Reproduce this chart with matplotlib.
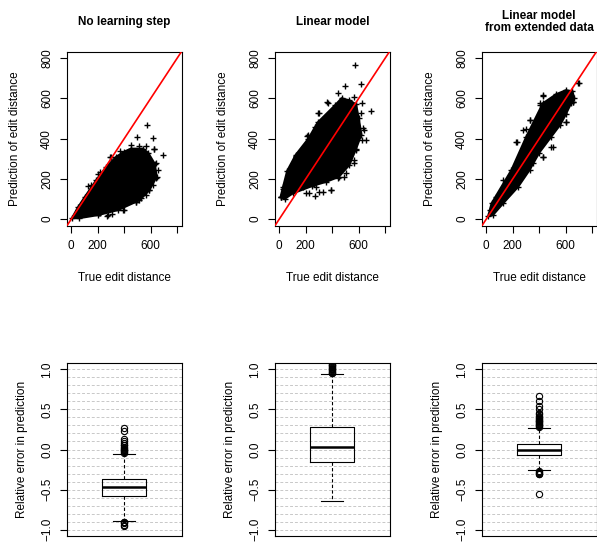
import matplotlib
matplotlib.use('Agg')
import matplotlib.pyplot as plt

plt.rcParams['font.family'] = ['Liberation Sans', 'DejaVu Sans']
plt.rcParams['font.size'] = 8.5

titles = ['No learning step', 'Linear model', 'Linear model\nfrom extended data']

# dense core of each scatter cloud (outline, true vs predicted distance)
nl_core_true = [5, 52, 102, 190, 265, 340, 400, 450, 540, 580, 630, 645, 590, 515, 352, 200, 60]
nl_core_pred = [5, 60, 110, 195, 260, 310, 335, 350, 350, 330, 275, 211, 144, 94, 45, 20, 5]
lm_core_true = [10, 25, 60, 125, 220, 290, 420, 470, 530, 580, 600, 620, 580, 530, 450, 352, 250, 102, 40]
lm_core_pred = [110, 150, 240, 320, 400, 480, 565, 600, 590, 570, 500, 420, 350, 270, 210, 185, 165, 128, 100]
ext_core_true = [15, 40, 190, 302, 427, 527, 600, 650, 665, 640, 600, 560, 490, 400, 327, 240, 127, 50]
ext_core_pred = [15, 78, 244, 409, 575, 620, 640, 635, 600, 575, 520, 470, 409, 330, 244, 160, 78, 20]

# scattered points around and outside the dense core
nl_out_true = [568, 617, 495, 695, 625, 365, 295, 205, 125, 270, 207, 400, 305, 487, 562,
               452, 515, 565, 627, 427, 302, 215, 152, 640, 652, 640, 615, 590, 565, 527,
               490, 402, 390, 327, 277, 215, 165, 102, 52]
nl_out_pred = [470, 404, 406, 321, 346, 338, 307, 224, 164, 16, 31, 45, 28, 86, 144,
               368, 363, 363, 346, 335, 310, 235, 169, 277, 244, 202, 169, 144, 119, 103,
               86, 78, 45, 58, 20, 31, 45, 53, 45]
lm_out_true = [568, 618, 495, 693, 362, 295, 270, 212, 125, 12, 267, 205, 392, 300, 487, 562, 657, 632,
               440, 365, 297, 215, 127, 27, 15, 565, 627, 615, 640, 627, 577, 565, 502, 440,
               390, 327, 277, 227, 177, 515]
lm_out_pred = [765, 671, 661, 538, 581, 528, 459, 413, 315, 111, 114, 128, 144, 136, 210, 277, 393, 451,
               625, 575, 525, 417, 310, 161, 111, 608, 575, 525, 442, 393, 343, 293, 227, 202,
               144, 136, 161, 128, 161, 583]
ext_out_true = [692, 430, 405, 330, 230, 600, 492, 430, 655, 280,
                427, 552, 402, 440, 327, 302, 227, 590, 602, 502, 427, 652, 702, 127, 77, 27,
                252, 352, 640]
ext_out_pred = [678, 616, 567, 492, 384, 484, 356, 310, 583, 442,
                611, 616, 575, 533, 492, 446, 384, 525, 484, 360, 310, 583, 678, 194, 111, 45,
                210, 277, 608]

# relative error boxplots
box_med = [-0.471, 0.033, 0.0]
box_q1 = [-0.575, -0.154, -0.0625]
box_q3 = [-0.367, 0.283, 0.071]
box_lo = [-0.8875, -0.646, -0.258]
box_hi = [-0.05, 0.9375, 0.27]
nl_fliers = [-0.04, -0.03, -0.02, -0.01, 0.0, 0.01, 0.02, 0.03, 0.05, 0.06, 0.08, 0.1, 0.125,
             0.23, 0.27, -0.9, -0.91, -0.92, -0.94, -0.96]
lm_fliers = [0.95, 0.96, 0.97, 0.98, 0.99, 1.0, 1.01, 1.02, 1.03, 1.04, 1.05, 1.06, 1.07]
ext_fliers = [0.28, 0.29, 0.3, 0.31, 0.32, 0.33, 0.34, 0.35, 0.36, 0.37, 0.38, 0.39, 0.4,
              0.42, 0.44, 0.46, 0.5, 0.54, 0.6, 0.667, -0.27, -0.28, -0.29, -0.3, -0.31, -0.55]

cores = [(nl_core_true, nl_core_pred), (lm_core_true, lm_core_pred), (ext_core_true, ext_core_pred)]
outs = [(nl_out_true, nl_out_pred), (lm_out_true, lm_out_pred), (ext_out_true, ext_out_pred)]
fliers = [nl_fliers, lm_fliers, ext_fliers]

fig = plt.figure(figsize=(5.97, 5.42), dpi=100)
W, H = 597.0, 542.0
lefts = [67, 275, 482]
aw = 114.5

for i in range(3):
    # scatter row
    ax = fig.add_axes([lefts[i] / W, 1 - 226 / H, aw / W, 174 / H])
    cx, cy = cores[i]
    ax.fill(cx, cy, color='black', lw=1.5, zorder=2)
    ax.plot(cx, cy, '+', color='black', ms=5, mew=1, ls='none', zorder=2)
    ox, oy = outs[i]
    ax.plot(ox, oy, '+', color='black', ms=5, mew=1, ls='none', zorder=2)
    ax.axline((0, 0), slope=1, color='red', lw=1.2, zorder=3)
    ax.set_xlim(-32, 832)
    ax.set_ylim(-34, 830)
    ax.set_xticks([0, 200, 400, 600, 800])
    ax.set_xticklabels(['0', '200', '', '600', ''])
    ax.set_yticks([0, 200, 400, 600, 800])
    ax.set_yticklabels(['0', '200', '400', '600', '800'], rotation=90, va='center')
    ax.tick_params(length=5, width=0.8, pad=5)
    for s in ax.spines.values():
        s.set_linewidth(0.8)
    ax.text(0.5, -0.299, 'True edit distance', transform=ax.transAxes, ha='center', va='center')
    ax.text(-0.452, 0.5, 'Prediction of edit distance', transform=ax.transAxes,
            ha='center', va='center', rotation=90)
    fig.text((lefts[i] + aw / 2) / W, 1 - 22 / H, titles[i], ha='center', va='center',
             fontweight='bold', linespacing=1.1)

    # boxplot row
    bx = fig.add_axes([lefts[i] / W, 1 - 536 / H, aw / W, 173 / H])
    for k in range(-10, 11):
        bx.axhline(k / 10, color='#c8c8c8', lw=0.7, ls=(0, (3, 2)), zorder=0)
    stats = [{'med': box_med[i], 'q1': box_q1[i], 'q3': box_q3[i],
              'whislo': box_lo[i], 'whishi': box_hi[i], 'fliers': fliers[i]}]
    bx.bxp(stats, positions=[1], widths=0.38, capwidths=0.19, showfliers=True,
           boxprops=dict(color='black', lw=0.8),
           medianprops=dict(color='black', lw=1.8),
           whiskerprops=dict(color='black', lw=0.8, ls=(0, (3, 2))),
           capprops=dict(color='black', lw=0.8),
           flierprops=dict(marker='o', mfc='none', mec='black', ms=4.5, mew=0.8))
    bx.set_xlim(0.5, 1.5)
    bx.set_ylim(-1.08, 1.08)
    bx.set_xticks([])
    bx.set_yticks([-1, -0.5, 0, 0.5, 1])
    bx.set_yticklabels(['\u22121.0', '\u22120.5', '0.0', '0.5', '1.0'], rotation=90, va='center')
    bx.tick_params(length=5, width=0.8, pad=5)
    for s in bx.spines.values():
        s.set_linewidth(0.8)
    bx.text(-0.39, 0.5, 'Relative error in prediction', transform=bx.transAxes,
            ha='center', va='center', rotation=90)

fig.savefig('out.png', dpi=100)
